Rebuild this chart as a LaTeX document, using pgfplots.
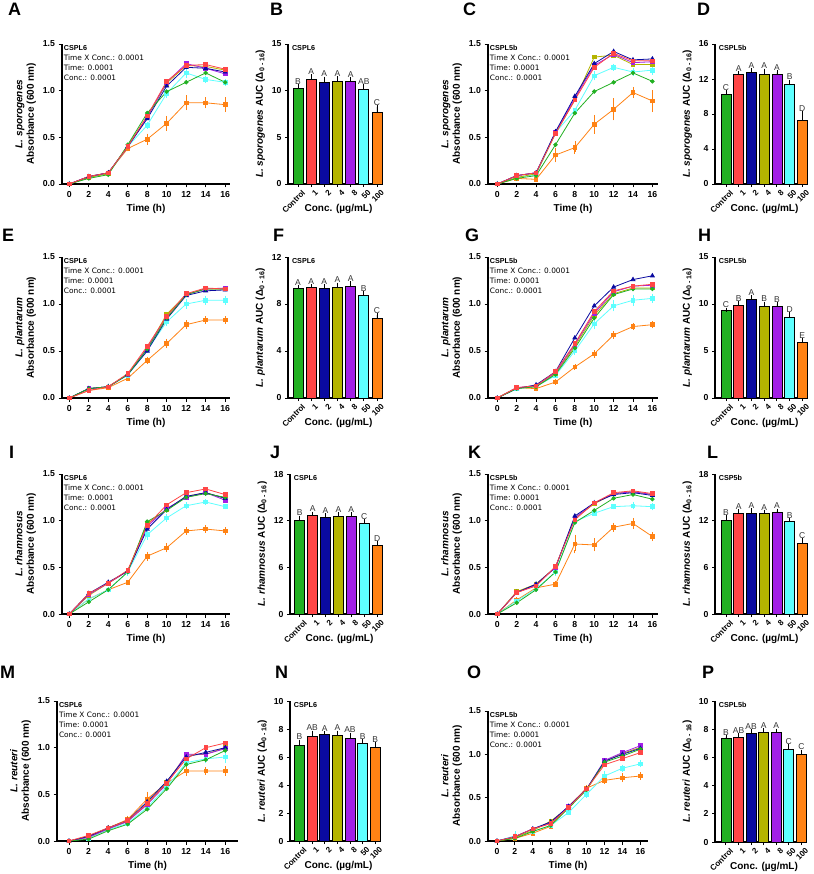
\documentclass[border=0pt]{standalone}
\usepackage{fontspec}
\setmainfont{Liberation Sans}
\newfontfamily\annotfont{DejaVu Sans}
\usepackage{pgfplots}
\usepackage{pgfplotstable}
\pgfplotsset{compat=1.18}

\definecolor{cG}{HTML}{22B022}
\definecolor{cR}{HTML}{FF4646}
\definecolor{cB}{HTML}{0A0AA0}
\definecolor{cY}{HTML}{B4B400}
\definecolor{cP}{HTML}{A21FE6}
\definecolor{cC}{HTML}{5EFFFF}
\definecolor{cO}{HTML}{FF8214}
\colorlet{c0}{cG}\colorlet{c1}{cR}\colorlet{c2}{cB}\colorlet{c3}{cY}
\colorlet{c4}{cP}\colorlet{c5}{cC}\colorlet{c6}{cO}

% growth curves: t, control, 1, 2, 4, 8, 50, 100 ug/mL, errors of 50 and 100
\pgfplotstableread{
t g r b y p c o ce oe
0 0 0 0 0 0 0 0 0 0
2 0.06 0.08 0.08 0.07 0.08 0.07 0.08 0.01 0.01
4 0.10 0.12 0.12 0.11 0.12 0.11 0.12 0.01 0.01
6 0.42 0.40 0.40 0.41 0.40 0.40 0.38 0.01 0.01
8 0.76 0.73 0.70 0.72 0.72 0.63 0.48 0.02 0.04
10 0.99 1.10 1.05 1.08 1.09 0.97 0.65 0.03 0.06
12 1.09 1.27 1.25 1.27 1.29 1.19 0.87 0.04 0.06
14 1.19 1.28 1.24 1.26 1.24 1.12 0.87 0.02 0.04
16 1.09 1.23 1.20 1.22 1.18 1.09 0.85 0.02 0.06
}\tabA
\pgfplotstableread{
t g r b y p c o ce oe
0 0 0 0 0 0 0 0 0 0
2 0.06 0.09 0.09 0.07 0.09 0.07 0.06 0.01 0.01
4 0.09 0.12 0.12 0.11 0.12 0.10 0.05 0.01 0.01
6 0.42 0.54 0.56 0.54 0.55 0.55 0.31 0.01 0.06
8 0.76 0.90 0.94 0.90 0.92 0.79 0.39 0.01 0.05
10 0.99 1.25 1.29 1.36 1.27 1.16 0.64 0.03 0.08
12 1.09 1.40 1.42 1.38 1.39 1.25 0.80 0.02 0.10
14 1.19 1.32 1.33 1.28 1.30 1.20 0.98 0.02 0.04
16 1.10 1.32 1.34 1.28 1.31 1.22 0.89 0.03 0.10
}\tabC
\pgfplotstableread{
t g r b y p c o ce oe
0 0 0 0 0 0 0 0 0 0
2 0.10 0.08 0.10 0.10 0.10 0.10 0.08 0.01 0.01
4 0.12 0.12 0.12 0.12 0.12 0.12 0.11 0.01 0.01
6 0.25 0.26 0.25 0.25 0.25 0.24 0.21 0.01 0.01
8 0.52 0.55 0.50 0.53 0.53 0.51 0.40 0.01 0.02
10 0.85 0.87 0.84 0.89 0.87 0.81 0.58 0.03 0.03
12 1.10 1.11 1.09 1.10 1.10 1.00 0.78 0.03 0.03
14 1.16 1.17 1.14 1.16 1.16 1.04 0.83 0.03 0.02
16 1.16 1.16 1.15 1.16 1.17 1.04 0.83 0.03 0.02
}\tabE
\pgfplotstableread{
t g r b y p c o ce oe
0 0 0 0 0 0 0 0 0 0
2 0.10 0.11 0.10 0.11 0.11 0.10 0.11 0.01 0.01
4 0.12 0.13 0.14 0.12 0.13 0.12 0.10 0.01 0.01
6 0.25 0.28 0.28 0.26 0.27 0.24 0.17 0.01 0.01
8 0.53 0.58 0.64 0.55 0.57 0.50 0.33 0.02 0.01
10 0.85 0.92 0.98 0.88 0.90 0.79 0.47 0.04 0.02
12 1.10 1.14 1.18 1.11 1.13 0.98 0.67 0.04 0.02
14 1.16 1.19 1.26 1.17 1.19 1.04 0.76 0.04 0.02
16 1.16 1.21 1.30 1.17 1.20 1.06 0.78 0.03 0.02
}\tabG
\pgfplotstableread{
t g r b y p c o ce oe
0 0 0 0 0 0 0 0 0 0
2 0.13 0.22 0.22 0.20 0.21 0.16 0.16 0.01 0.01
4 0.26 0.33 0.34 0.33 0.33 0.26 0.26 0.01 0.01
6 0.45 0.47 0.46 0.46 0.46 0.45 0.34 0.02 0.01
8 0.99 0.95 0.91 0.97 0.94 0.85 0.62 0.04 0.03
10 1.11 1.17 1.12 1.12 1.13 1.03 0.71 0.02 0.03
12 1.25 1.30 1.26 1.26 1.25 1.16 0.89 0.02 0.02
14 1.29 1.34 1.30 1.30 1.30 1.20 0.91 0.01 0.02
16 1.25 1.28 1.24 1.24 1.22 1.15 0.89 0.01 0.02
}\tabI
\pgfplotstableread{
t g r b y p c o ce oe
0 0 0 0 0 0 0 0 0 0
2 0.12 0.23 0.23 0.24 0.23 0.14 0.15 0.01 0.01
4 0.26 0.30 0.32 0.32 0.31 0.27 0.28 0.01 0.01
6 0.45 0.51 0.50 0.50 0.50 0.45 0.32 0.02 0.01
8 0.98 1.01 1.05 1.03 1.03 0.99 0.75 0.01 0.08
10 1.11 1.19 1.19 1.18 1.19 1.08 0.74 0.01 0.05
12 1.24 1.30 1.28 1.29 1.29 1.15 0.93 0.01 0.03
14 1.28 1.32 1.30 1.31 1.31 1.16 0.97 0.02 0.04
16 1.23 1.29 1.27 1.28 1.28 1.15 0.83 0.02 0.03
}\tabK
\pgfplotstableread{
t g r b y p c o ce oe
0 0 0 0 0 0 0 0 0 0
2 0.02 0.06 0.05 0.04 0.04 0.03 0.05 0.01 0.01
4 0.11 0.14 0.14 0.13 0.13 0.12 0.14 0.01 0.01
6 0.18 0.22 0.22 0.21 0.21 0.19 0.23 0.01 0.02
8 0.34 0.40 0.42 0.40 0.39 0.36 0.45 0.02 0.06
10 0.56 0.62 0.64 0.63 0.61 0.58 0.62 0.03 0.03
12 0.82 0.88 0.90 0.92 0.93 0.84 0.75 0.03 0.03
14 0.87 1.00 0.95 0.93 0.93 0.88 0.75 0.03 0.02
16 0.97 1.05 1.00 1.00 0.99 0.90 0.75 0.05 0.03
}\tabM
\pgfplotstableread{
t g r b y p c o ce oe
0 0 0 0 0 0 0 0 0 0
2 0.03 0.05 0.05 0.04 0.05 0.06 0.03 0.03 0.01
4 0.11 0.14 0.14 0.12 0.14 0.11 0.09 0.01 0.01
6 0.18 0.20 0.22 0.23 0.21 0.18 0.17 0.01 0.01
8 0.38 0.39 0.40 0.39 0.40 0.33 0.40 0.01 0.01
10 0.59 0.60 0.60 0.60 0.60 0.54 0.61 0.02 0.01
12 0.91 0.88 0.92 0.92 0.93 0.75 0.70 0.04 0.02
14 0.98 0.95 1.00 1.01 1.02 0.84 0.73 0.02 0.03
16 1.06 1.02 1.07 1.08 1.10 0.89 0.75 0.02 0.02
}\tabO

% AUC bars: position, value, error, letter
\pgfplotstableread{
x v e lab
0 10.3 0.2 B
1 11.2 0.35 A
2 10.9 0.4 A
3 10.95 0.4 A
4 10.95 0.3 A
5 10.15 0.3 AB
6 7.7 0.55 C
}\tabB
\pgfplotstableread{
x v e lab
0 10.3 0.2 C
1 12.5 0.15 A
2 12.75 0.3 A
3 12.55 0.4 A
4 12.55 0.2 A
5 11.4 0.3 B
6 7.3 0.8 D
}\tabD
\pgfplotstableread{
x v e lab
0 9.3 0.15 A
1 9.4 0.15 A
2 9.3 0.2 A
3 9.45 0.2 A
4 9.5 0.25 A
5 8.7 0.2 B
6 6.8 0.25 C
}\tabF
\pgfplotstableread{
x v e lab
0 9.3 0.1 C
1 9.9 0.2 B
2 10.5 0.25 A
3 9.8 0.25 B
4 9.8 0.15 B
5 8.6 0.3 D
6 5.9 0.25 E
}\tabH
\pgfplotstableread{
x v e lab
0 12.1 0.3 B
1 12.7 0.2 A
2 12.45 0.3 A
3 12.5 0.35 A
4 12.5 0.35 A
5 11.6 0.3 C
6 8.8 0.3 D
}\tabJ
\pgfplotstableread{
x v e lab
0 12.1 0.35 B
1 13.0 0.2 A
2 12.95 0.4 A
3 13.0 0.15 A
4 13.1 0.2 A
5 11.9 0.2 B
6 9.1 0.4 C
}\tabL
\pgfplotstableread{
x v e lab
0 6.8 0.3 B
1 7.45 0.3 AB
2 7.6 0.1 A
3 7.55 0.2 A
4 7.3 0.3 AB
5 6.95 0.2 B
6 6.7 0.2 B
}\tabN
\pgfplotstableread{
x v e lab
0 7.35 0.1 B
1 7.45 0.15 AB
2 7.7 0.15 AB
3 7.8 0.15 A
4 7.75 0.15 A
5 6.6 0.2 C
6 6.25 0.15 C
}\tabP

\pgfplotsset{
  base/.style={
    scale only axis, clip=false,
    axis x line*=bottom, axis y line*=left,
    axis line style={line width=1.1pt, -},
    tick align=outside, major tick length=3.5pt,
    tick style={black, line width=0.9pt},
    ticklabel style={font=\bfseries\fontsize{8.7}{10}\selectfont},
    /pgf/number format/assume math mode=true,
    label style={font=\bfseries\fontsize{10}{11.5}\selectfont},
    xlabel style={at={(axis description cs:0.5,0)}, anchor=center, yshift=-25pt},
    ymin=0},
  lineax/.style={base, width=168pt, height=140pt,
    xmin=-0.75, xmax=16.5, ymax=1.5,
    xtick={0,2,...,16}, ytick={0,0.5,1,1.5},
    y tick label style={/pgf/number format/.cd, fixed, fixed zerofill, precision=1, /tikz/.cd},
    xlabel={Time (h)}, ylabel style={align=center}},
  barax/.style={base, width=95pt, height=140pt,
    xmin=-0.76, xmax=6.46, xtick={0,...,6},
    xticklabels={Control,1,2,4,8,50,100},
    x tick label style={rotate=45, anchor=north east, inner sep=1pt, yshift=-3pt, xshift=2pt,
      font=\bfseries\fontsize{8}{9}\selectfont},
    major tick length=3pt,
    xlabel style={xshift=3pt},
    xlabel={Conc. (µg/mL)}},
  ser/.style={line width=0.8pt, mark=square*, mark size=1.8pt, mark options={solid},
    error bars/error bar style={line width=0.7pt},
    error bars/error mark options={line width=0.7pt, mark size=1.8pt}},
}

\newcommand\drawlines[1]{%
  \addplot[cO, ser, error bars/.cd, y dir=both, y explicit] table[x=t, y=o, y error=oe]{#1};
  \addplot[cC, ser, error bars/.cd, y dir=both, y explicit] table[x=t, y=c, y error=ce]{#1};
  \addplot[cY, ser] table[x=t, y=y]{#1};
  \addplot[cP, ser] table[x=t, y=p]{#1};
  \addplot[cB, ser, mark=triangle*, mark size=2.2pt] table[x=t, y=b]{#1};
  \addplot[cG, ser, mark=*, mark size=1.8pt] table[x=t, y=g]{#1};
  \addplot[cR, ser] table[x=t, y=r]{#1};
}

% #1 x, #2 bottom, #3 table, #4 species, #5 strain, #6 extra options
\newcommand\linepanel[6]{%
  \begin{axis}[lineax, at={(#1pt,-#2pt)}, anchor=south west,
    ylabel={\textit{#4}\\Absorbance (600 nm)}, #6]
    \drawlines{#3}
    \node[anchor=north west, inner sep=0pt, align=left,
      font=\annotfont\fontsize{7.4}{10}\selectfont]
      at (rel axis cs:0.01,0.99)
      {{\rmfamily\bfseries\fontsize{7.2}{10}\selectfont #5}\\Time X Conc.: 0.0001\\Time: 0.0001\\Conc.: 0.0001};
  \end{axis}}

% #1 x, #2 bottom, #3 table, #4 species, #5 strain, #6 ymax, #7 ticks, #8 extra
\newcommand\barpanel[8]{%
  \begin{axis}[barax, at={(#1pt,-#2pt)}, anchor=south west,
    ymax=#6, ytick={#7},
    ylabel={\textit{#4} AUC (Δ\textsubscript{0 - 16})}, #8]
    \pgfplotsinvokeforeach{0,...,6}{%
      \addplot[ybar, bar width=10pt, fill=c##1, draw=black, line width=0.7pt,
        error bars/.cd, y dir=plus, y explicit,
        error bar style={black, line width=0.7pt},
        error mark options={black, line width=0.7pt, mark size=2pt}]
        table[x=x, y=v, y error=e, restrict expr to domain={\coordindex}{##1:##1}]{#3};
    }
    \addplot[draw=none, mark=none, point meta=explicit symbolic, nodes near coords,
      nodes near coords style={font=\fontsize{8.5}{9}\selectfont, color=black!80, anchor=south, inner sep=1.5pt}]
      table[x=x, y expr=\thisrow{v}+\thisrow{e}, meta=lab]{#3};
    \node[anchor=north west, inner sep=0pt, font=\bfseries\fontsize{7.2}{8}\selectfont]
      at (rel axis cs:0.04,0.99) {#5};
  \end{axis}}

\newcommand\plabel[3]{\node[anchor=north west, inner sep=0pt, font=\bfseries\fontsize{18}{18}\selectfont] at (#1pt,-#2pt) {#3};}

\begin{document}
\begin{tikzpicture}
\useasboundingbox (0pt,0pt) rectangle (813pt,-874pt);

\linepanel{62}{184}{\tabA}{L. sporogenes}{CSPL6}{}
\barpanel{288}{184}{\tabB}{L. sporogenes}{CSPL6}{15}{0,5,10,15}{}
\linepanel{488}{184}{\tabC}{L. sporogenes}{CSPL5b}{width=170pt, xmin=-0.96, xmax=16.58}
\barpanel{715}{184}{\tabD}{L. sporogenes}{CSPL5b}{16}{0,4,8,12,16}{width=93pt, xmin=-0.87, xmax=6.45}

\linepanel{62}{398}{\tabE}{L. plantarum}{CSPL6}{height=141pt}
\barpanel{288}{398}{\tabF}{L. plantarum}{CSPL6}{12}{0,4,8,12}{height=141pt}
\linepanel{488}{398}{\tabG}{L. plantarum}{CSPL5b}{height=141pt, width=170pt, xmin=-0.96, xmax=16.58}
\barpanel{715}{398}{\tabH}{L. plantarum}{CSPL5b}{15}{0,5,10,15}{height=141pt, width=93pt, xmin=-0.87, xmax=6.45}

\linepanel{62}{614}{\tabI}{L. rhamnosus}{CSPL6}{}
\barpanel{290}{614}{\tabJ}{L. rhamnosus}{CSPL6}{18}{0,6,12,18}{width=93pt}
\linepanel{488}{614}{\tabK}{L. rhamnosus}{CSPL5b}{width=170pt, xmin=-0.96, xmax=16.58}
\barpanel{715}{614}{\tabL}{L. rhamnosus}{CSP5b}{18}{0,6,12,18}{width=93pt, xmin=-0.87, xmax=6.45}

\linepanel{57}{841}{\tabM}{L. reuteri}{CSPL6}{width=181pt, xmin=-1.23, xmax=17.3}
\barpanel{290}{841}{\tabN}{L. reuteri}{CSPL6}{10}{0,2,4,6,8,10}{width=91pt}
\linepanel{488}{841}{\tabO}{L. reuteri}{CSPL5b}{width=160pt, height=130pt, xmin=-1.0, xmax=16.85}
\barpanel{715}{842}{\tabP}{L. reuteri}{CSPL5b}{10}{0,2,4,6,8,10}{height=141pt, width=92pt, xmin=-0.87, xmax=6.45}

\plabel{8}{3}{A}\plabel{270}{3}{B}\plabel{463}{3}{C}\plabel{697}{3}{D}
\plabel{2}{229}{E}\plabel{273}{229}{F}\plabel{465}{229}{G}\plabel{698}{229}{H}
\plabel{9}{446}{I}\plabel{270}{446}{J}\plabel{468}{446}{K}\plabel{707}{446}{L}
\plabel{0}{666}{M}\plabel{275}{666}{N}\plabel{467}{666}{O}\plabel{702}{666}{P}
\end{tikzpicture}
\end{document}
